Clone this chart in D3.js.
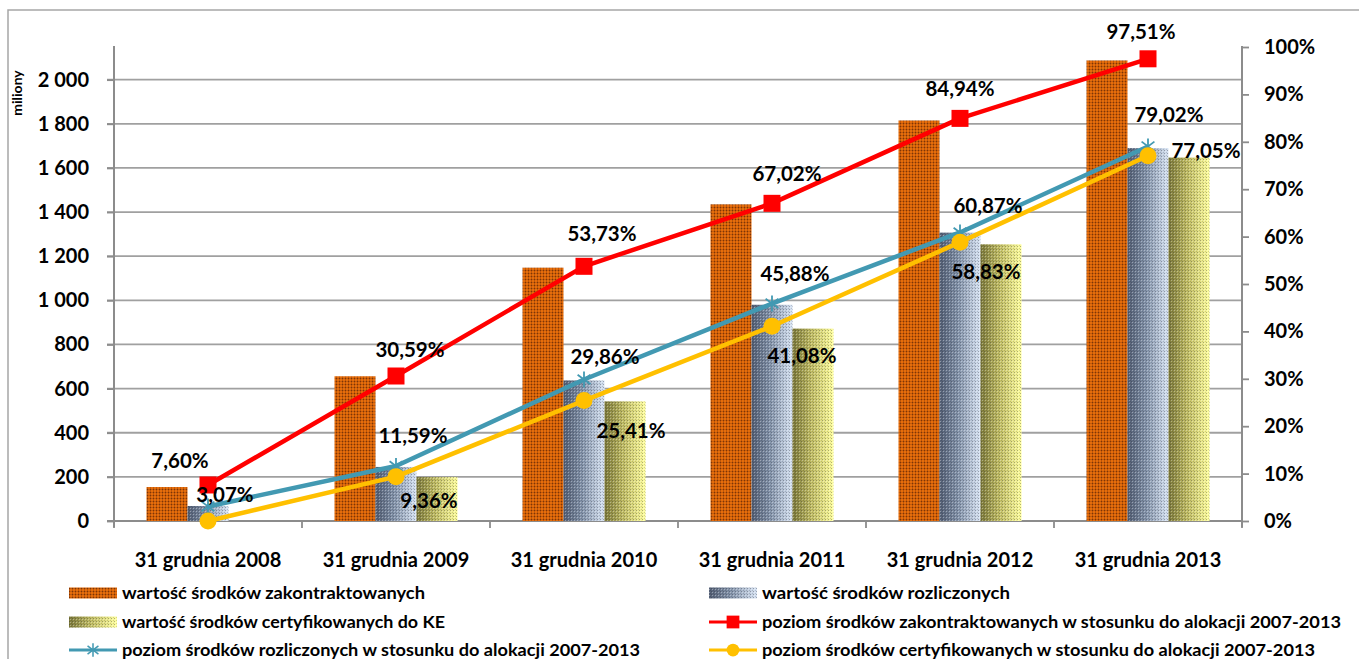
<!DOCTYPE html>
<html>
<head>
<meta charset="utf-8">
<script src="https://cdn.jsdelivr.net/npm/d3@7"></script>
<style>
  html, body { margin: 0; padding: 0; background: #fff; }
  svg { display: block; }
  text { font-family: Lato, "Open Sans", sans-serif; font-weight: bold; fill: #000; }
</style>
</head>
<body>
<svg id="chart" width="1359" height="659"></svg>
<script>
// ---------- DATA ----------
const categories = ["31 grudnia 2008", "31 grudnia 2009", "31 grudnia 2010", "31 grudnia 2011", "31 grudnia 2012", "31 grudnia 2013"];
const contracted = [154, 656, 1148, 1435, 1815, 2087];      // wartość środków zakontraktowanych (mln)
const settled    = [68, 245, 637, 980, 1307, 1690];         // wartość środków rozliczonych (mln)
const certified  = [0, 199, 542, 872, 1254, 1647];          // wartość środków certyfikowanych do KE (mln)
const contractedPct = [7.60, 30.59, 53.73, 67.02, 84.94, 97.51];
const settledPct    = [3.07, 11.59, 29.86, 45.88, 60.87, 79.02];
const certifiedPct  = [0.0, 9.36, 25.41, 41.08, 58.83, 77.05];
const leftTicks  = [0, 200, 400, 600, 800, 1000, 1200, 1400, 1600, 1800, 2000];
const rightTicks = [0, 0.1, 0.2, 0.3, 0.4, 0.5, 0.6, 0.7, 0.8, 0.9, 1.0];
const yTitle = "miliony";
const legendLabels = [
  "wartość środków zakontraktowanych",
  "wartość środków rozliczonych",
  "wartość środków certyfikowanych do KE",
  "poziom środków zakontraktowanych w stosunku do alokacji 2007-2013",
  "poziom środków rozliczonych w stosunku do alokacji 2007-2013",
  "poziom środków certyfikowanych w stosunku do alokacji 2007-2013"
];

// ---------- LAYOUT (label offsets relative to points) ----------
const redLabelOff    = [[-28,-24],[14,-26],[18,-33],[15,-30],[0,-30],[-7,-27]];
const blueLabelOff   = [[17,-12],[17,-30],[21,-23],[23,-30],[28,-27],[21,-32]];
const yellowLabelOff = [null,[33,24],[47,30],[30,29],[26,29],[58,-5]];

const svg = d3.select("#chart");
const W = 1359, H = 659;
const plot = {left: 114, right: 1242, top: 47, bottom: 521};

svg.append("rect").attr("width", W).attr("height", H).attr("fill", "#fff");

// ---------- DEFS ----------
const defs = svg.append("defs");
function pat(id, size, base, dots) {
  const p = defs.append("pattern").attr("id", id).attr("patternUnits", "userSpaceOnUse")
    .attr("width", size).attr("height", size);
  if (base) p.append("rect").attr("width", size).attr("height", size).attr("fill", base);
  dots.forEach(d => p.append("rect").attr("x", d[0]).attr("y", d[1]).attr("width", d[2]).attr("height", d[3]).attr("fill", d[4]));
  return p;
}
pat("pOrange", 3, "#E56D0B", [[0,0,1,1,"#7E3505"],[0,1,1,2,"#BC560A"],[1,0,2,1,"#C25A0A"]]);
pat("pDots", 3, null, [[0,0,1,1,"rgba(40,40,50,0.35)"],[1,1,1,1,"rgba(255,255,255,0.35)"],[2,2,1,1,"rgba(0,0,0,0.15)"]]);
function grad(id, stops) {
  const g = defs.append("linearGradient").attr("id", id).attr("x1", 0).attr("x2", 1).attr("y1", 0).attr("y2", 0);
  stops.forEach(s => g.append("stop").attr("offset", s[0]).attr("stop-color", s[1]));
}
grad("gBlue", [[0,"#525E74"],[0.45,"#8393AA"],[1,"#D9E5F5"]]);
grad("gYellow", [[0,"#7C793A"],[0.45,"#C0BC64"],[1,"#FFFF9E"]]);

// outer border
svg.append("rect").attr("x", 8).attr("y", 10).attr("width", 1400).attr("height", 700)
  .attr("fill", "none").attr("stroke", "#A6A6A6").attr("stroke-width", 1.5);

// ---------- SCALES ----------
const x = d3.scaleBand().domain(categories).range([plot.left, plot.right]).padding(0);
const bw = x.bandwidth();
const seriesKeys = ["c", "s", "f"];
const xs = d3.scaleBand().domain(seriesKeys).range([-61.5, 61.5]).padding(0);
const yL = d3.scaleLinear().domain([0, 2148]).range([plot.bottom, plot.top]);
const yR = d3.scaleLinear().domain([0, 1]).range([plot.bottom, plot.top]);
const cx = c => x(c) + bw / 2;

// ---------- GRID ----------
svg.append("g").selectAll("line").data(leftTicks.slice(1)).join("line")
  .attr("x1", plot.left - 7).attr("x2", plot.right)
  .attr("y1", d => yL(d)).attr("y2", d => yL(d))
  .attr("stroke", "#A0A0A0").attr("stroke-width", 1.8);

// ---------- AXES ----------
const loc = d3.formatLocale({decimal: ",", thousands: "\u00a0", grouping: [3], currency: ["", ""]});
const fmtL = loc.format(",");
const axL = svg.append("g").attr("transform", `translate(${plot.left},0)`)
  .call(d3.axisLeft(yL).tickValues(leftTicks).tickFormat(fmtL).tickSize(7).tickPadding(18));
axL.select(".domain").remove();
axL.selectAll(".tick line").attr("stroke", "#8C8C8C").attr("stroke-width", 1.8);
axL.selectAll(".tick text").attr("font-size", 20).attr("font-family", "Lato").attr("font-weight", "bold").attr("fill", "#000");
svg.append("line").attr("x1", plot.left).attr("x2", plot.left).attr("y1", 46).attr("y2", plot.bottom + 6)
  .attr("stroke", "#8C8C8C").attr("stroke-width", 2);

const axR = svg.append("g").attr("transform", `translate(${plot.right},0)`)
  .call(d3.axisRight(yR).tickValues(rightTicks).tickFormat(d3.format(".0%")).tickSize(7).tickPadding(15));
axR.select(".domain").remove();
axR.selectAll(".tick line").attr("stroke", "#8C8C8C").attr("stroke-width", 1.8);
axR.selectAll(".tick text").attr("font-size", 20).attr("font-family", "Lato").attr("font-weight", "bold").attr("fill", "#000");
svg.append("line").attr("x1", plot.right).attr("x2", plot.right).attr("y1", 46).attr("y2", plot.bottom + 6)
  .attr("stroke", "#8C8C8C").attr("stroke-width", 2);

// x axis
svg.append("line").attr("x1", plot.left - 7).attr("x2", plot.right).attr("y1", plot.bottom).attr("y2", plot.bottom)
  .attr("stroke", "#8C8C8C").attr("stroke-width", 2);
const bounds = categories.map(c => x(c)).concat([plot.right]);
svg.append("g").selectAll("line").data(bounds).join("line")
  .attr("x1", d => d).attr("x2", d => d).attr("y1", plot.bottom).attr("y2", plot.bottom + 7)
  .attr("stroke", "#8C8C8C").attr("stroke-width", 1.8);
svg.append("g").selectAll("text").data(categories).join("text")
  .attr("x", d => cx(d)).attr("y", 567).attr("text-anchor", "middle").attr("font-size", 20).text(d => d);

// y title (kept fully visible just inside the border)
svg.append("text").attr("transform", "translate(22,93) rotate(-90)").attr("text-anchor", "middle")
  .attr("font-size", 14).text(yTitle);

// ---------- BARS ----------
const barSeries = [
  {key: "c", vals: contracted, fill: "url(#pOrange)", overlay: false},
  {key: "s", vals: settled, fill: "url(#gBlue)", overlay: true},
  {key: "f", vals: certified, fill: "url(#gYellow)", overlay: true}
];
const gBars = svg.append("g");
barSeries.forEach(s => {
  const data = categories.map((c, i) => ({c, v: s.vals[i]})).filter(d => d.v > 0);
  gBars.append("g").selectAll("rect").data(data).join("rect")
    .attr("x", d => cx(d.c) + xs(s.key)).attr("width", xs.bandwidth())
    .attr("y", d => yL(d.v)).attr("height", d => yL(0) - yL(d.v))
    .attr("fill", s.fill);
  if (s.overlay) {
    gBars.append("g").selectAll("rect").data(data).join("rect")
      .attr("x", d => cx(d.c) + xs(s.key)).attr("width", xs.bandwidth())
      .attr("y", d => yL(d.v)).attr("height", d => yL(0) - yL(d.v))
      .attr("fill", "url(#pDots)");
  }
});

// ---------- LINES ----------
const line = d3.line().x(d => cx(d.c)).y(d => yR(d.v / 100));
const lineSeries = [
  {vals: contractedPct, color: "#FF0000", marker: "square", offs: redLabelOff},
  {vals: settledPct, color: "#4299B2", marker: "star", offs: blueLabelOff},
  {vals: certifiedPct, color: "#FFC000", marker: "circle", offs: yellowLabelOff}
];
function drawMarker(g, type, color, px, py) {
  if (type === "square") {
    g.append("rect").attr("x", px - 8.5).attr("y", py - 8.5).attr("width", 17).attr("height", 17).attr("fill", color);
  } else if (type === "circle") {
    g.append("circle").attr("cx", px).attr("cy", py).attr("r", 8.5).attr("fill", color);
  } else {
    const r = 8;
    [[0, -r, 0, r], [-r*0.8, -r*0.6, r*0.8, r*0.6], [-r*0.8, r*0.6, r*0.8, -r*0.6]].forEach(l =>
      g.append("line").attr("x1", px + l[0]).attr("y1", py + l[1]).attr("x2", px + l[2]).attr("y2", py + l[3])
        .attr("stroke", color).attr("stroke-width", 1.8));
  }
}
const gLines = svg.append("g");
lineSeries.forEach(s => {
  const data = categories.map((c, i) => ({c, v: s.vals[i]}));
  gLines.append("path").datum(data).attr("d", line).attr("fill", "none")
    .attr("stroke", s.color).attr("stroke-width", 4.5).attr("stroke-linejoin", "round");
  const gm = gLines.append("g");
  data.forEach(d => drawMarker(gm, s.marker, s.color, cx(d.c), yR(d.v / 100)));
});

// ---------- DATA LABELS ----------
const fmtPct = v => v.toFixed(2).replace(".", ",") + "%";
const gLab = svg.append("g");
lineSeries.forEach(s => {
  const data = categories.map((c, i) => ({c, v: s.vals[i], o: s.offs[i]})).filter(d => d.o);
  gLab.append("g").selectAll("text").data(data).join("text")
    .attr("x", d => cx(d.c) + d.o[0]).attr("y", d => yR(d.v / 100) + d.o[1])
    .attr("dy", "0.36em").attr("text-anchor", "middle").attr("font-size", 20.5)
    .text(d => fmtPct(d.v));
});

// ---------- LEGEND ----------
const legendItems = [
  {label: legendLabels[0], kind: "bar", fill: "url(#pOrange)", x: 69, y: 593, tx: 122, tl: 303},
  {label: legendLabels[1], kind: "bar", fill: "url(#gBlue)", x: 709, y: 593, tx: 762, tl: 248},
  {label: legendLabels[2], kind: "bar", fill: "url(#gYellow)", x: 69, y: 622, tx: 122, tl: 323},
  {label: legendLabels[3], kind: "line", color: "#FF0000", marker: "square", x: 709, y: 622, tx: 762, tl: 579},
  {label: legendLabels[4], kind: "line", color: "#4299B2", marker: "star", x: 69, y: 650, tx: 122, tl: 518},
  {label: legendLabels[5], kind: "line", color: "#FFC000", marker: "circle", x: 709, y: 650, tx: 762, tl: 553}
];
const gLeg = svg.append("g");
legendItems.forEach(it => {
  const g = gLeg.append("g");
  if (it.kind === "bar") {
    g.append("rect").attr("x", it.x).attr("y", it.y - 5.5).attr("width", 48).attr("height", 11).attr("fill", it.fill);
    if (it.fill !== "url(#pOrange)")
      g.append("rect").attr("x", it.x).attr("y", it.y - 5.5).attr("width", 48).attr("height", 11).attr("fill", "url(#pDots)");
  } else {
    g.append("line").attr("x1", it.x).attr("x2", it.x + 48).attr("y1", it.y).attr("y2", it.y)
      .attr("stroke", it.color).attr("stroke-width", 3);
    const sm = {square: 0.75, circle: 0.75, star: 0.85}[it.marker];
    const gm = g.append("g").attr("transform", `translate(${it.x + 24},${it.y}) scale(${sm})`);
    drawMarker(gm, it.marker, it.color, 0, 0);
  }
  g.append("text").attr("x", it.tx).attr("y", it.y).attr("dy", "0.36em").attr("font-size", 17)
    .attr("textLength", it.tl).attr("lengthAdjust", "spacingAndGlyphs").text(it.label);
});
</script>
</body>
</html>
